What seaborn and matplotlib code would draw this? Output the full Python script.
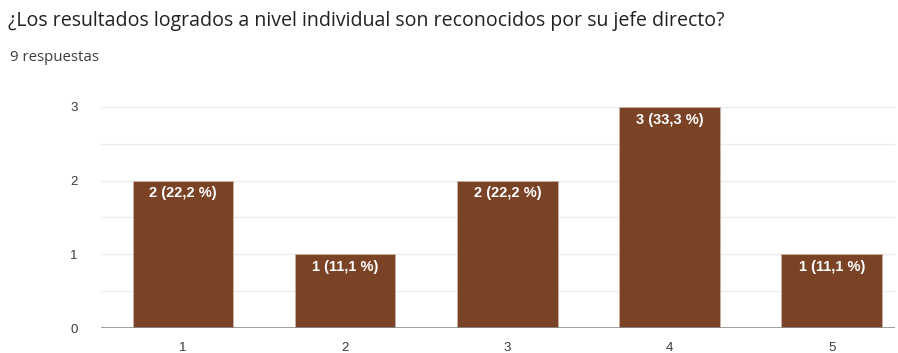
import matplotlib
matplotlib.use("Agg")
import matplotlib.pyplot as plt
import seaborn as sns
import pandas as pd

categories = ["1", "2", "3", "4", "5"]
counts = [2, 1, 2, 3, 1]
labels = ["2 (22,2 %)", "1 (11,1 %)", "2 (22,2 %)", "3 (33,3 %)", "1 (11,1 %)"]
title = "¿Los resultados logrados a nivel individual son reconocidos por su jefe directo?"
subtitle = "9 respuestas"

sns.set_theme(style="white")
plt.rcParams["font.family"] = ["Liberation Sans", "DejaVu Sans"]

df = pd.DataFrame({"opcion": categories, "n": counts})

fig = plt.figure(figsize=(8.98, 3.53), dpi=100)
ax = fig.add_axes([0.1125, 0.0708, 0.8842, 0.6262])

bar_color = "#7b4326"
sns.barplot(data=df, x="opcion", y="n", color=bar_color, saturation=1,
            width=0.62, ax=ax, zorder=3, edgecolor="#c9b3a6", linewidth=0.6)

ax.set_ylim(0, 3)
ax.set_xlim(-0.505, 4.39)
ax.set_yticks([0, 1, 2, 3])
for y in [0.5, 1, 1.5, 2, 2.5, 3]:
    ax.axhline(y, color="#ececec", lw=1, zorder=1)
ax.axhline(0, color="#8c8c8c", lw=1.2, zorder=4)

for s in ax.spines.values():
    s.set_visible(False)

ax.set_xlabel("")
ax.set_ylabel("")
ax.tick_params(axis="both", length=0, labelsize=9.5, colors="#3a3a3a")
ax.tick_params(axis="y", pad=17)
ax.tick_params(axis="x", pad=10)

for bar, lab in zip(ax.patches, labels):
    ax.annotate(lab, (bar.get_x() + bar.get_width() / 2, bar.get_height()),
                xytext=(0, -4), textcoords="offset points",
                ha="center", va="top", color="white", fontsize=10.5,
                fontweight="bold", zorder=5)


def fit_width(txt, width_px):
    # scale the font so the rendered text spans the requested pixel width
    renderer = fig.canvas.get_renderer()
    w = txt.get_window_extent(renderer).width
    txt.set_fontsize(txt.get_fontsize() * width_px / w)


t = fig.text(0.009, 0.94, title, fontsize=12, color="#202124", va="center",
             ha="left", family=["Open Sans", "DejaVu Sans"])
st = fig.text(0.011, 0.836, subtitle, fontsize=9, color="#3c3c3c", va="center",
              ha="left", family=["Open Sans", "DejaVu Sans"])
fig.canvas.draw()
fit_width(t, 710)
fit_width(st, 90)

fig.savefig("out.png", dpi=100, facecolor="white")
